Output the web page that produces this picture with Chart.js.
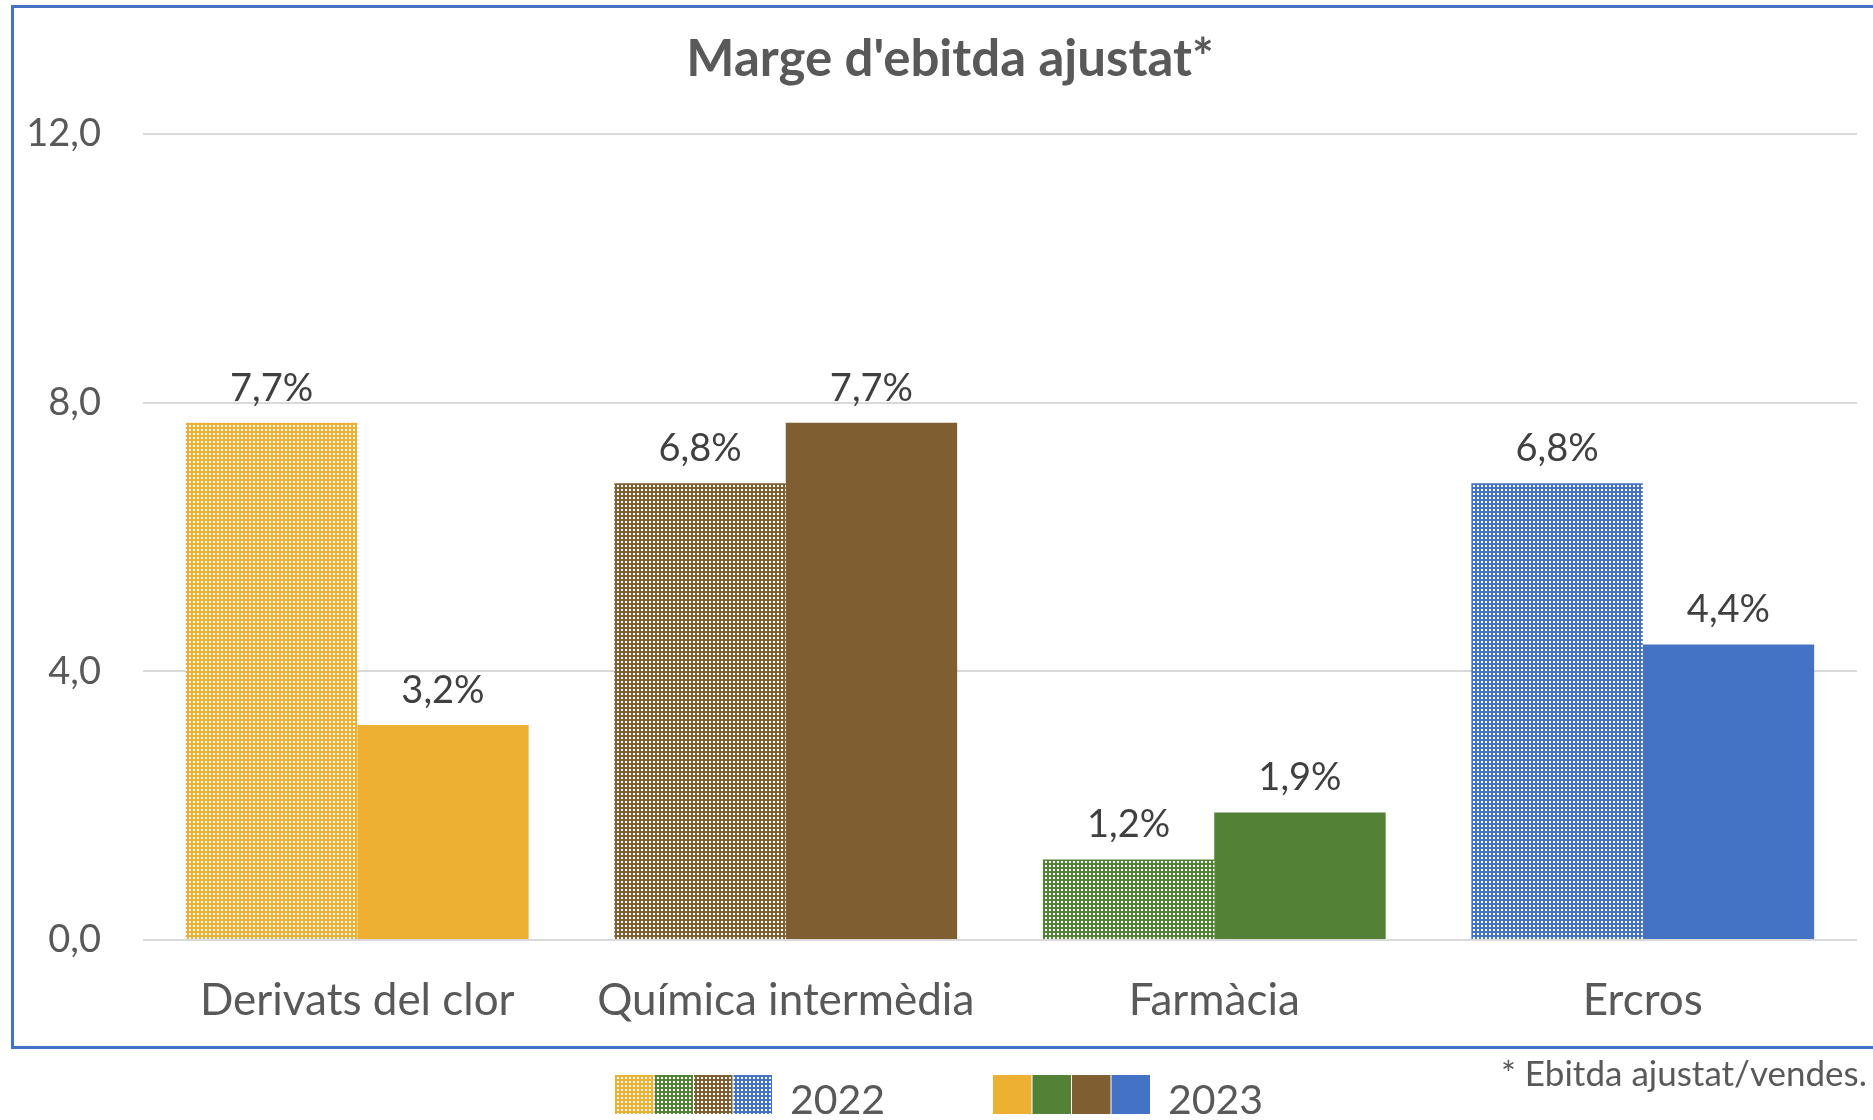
<!DOCTYPE html>
<html lang="ca">
<head>
<meta charset="utf-8">
<title>Marge d'ebitda ajustat</title>
<script src="https://cdn.jsdelivr.net/npm/chart.js@4"></script>
<style>
  html, body { margin: 0; padding: 0; background: #fff; overflow: hidden; }
  #wrap { position: relative; width: 1873px; height: 1120px; }
  #marc {
    position: absolute; left: 11px; top: 5px; width: 1900px; height: 1038px;
    border: 3px solid #4472C4; pointer-events: none;
  }
  #nota {
    position: absolute; right: 6px; top: 1051px;
    font-family: Lato, sans-serif; font-size: 35px; color: #595959;
  }
</style>
</head>
<body>
<div id="wrap">
  <canvas id="grafic" width="1873" height="1120"></canvas>
  <div id="marc"></div>
  <div id="nota">* Ebitda ajustat/vendes.</div>
</div>
<script>
const titol = "Marge d'ebitda ajustat*";
const categories = ['Derivats del clor', 'Química intermèdia', 'Farmàcia', 'Ercros'];
const anys = ['2022', '2023'];
const valors2022 = [7.7, 6.8, 1.2, 6.8];
const valors2023 = [3.2, 7.7, 1.9, 4.4];
const colors = ['#EDB033', '#7F5F32', '#538135', '#4472C4'];
const ordreLlegenda = [0, 2, 1, 3];
const ticksY = [0, 4, 8, 12];

const FONT = 'Lato, sans-serif';

function formatNum(v) {
  return v.toFixed(1).replace('.', ',');
}

// trama de punts blancs (com el patró d'Excel)
function trama(color) {
  const c = document.createElement('canvas');
  c.width = 4;
  c.height = 4;
  const g = c.getContext('2d');
  g.fillStyle = color;
  g.fillRect(0, 0, 4, 4);
  g.fillStyle = '#ffffff';
  g.fillRect(1, 1, 2, 2);
  return g.createPattern(c, 'repeat');
}

const trames = colors.map(trama);

// títol centrat sobre el marc, no sobre l'àrea del gràfic
const titolPlugin = {
  id: 'titol',
  afterDraw(chart) {
    const ctx = chart.ctx;
    ctx.save();
    ctx.font = `bold 51px ${FONT}`;
    ctx.fillStyle = '#595959';
    ctx.textAlign = 'center';
    ctx.textBaseline = 'middle';
    ctx.fillText(titol, 950, 60);
    ctx.restore();
  }
};

// etiquetes de valor damunt les barres
const etiquetesValor = {
  id: 'etiquetesValor',
  afterDatasetsDraw(chart) {
    const ctx = chart.ctx;
    ctx.save();
    ctx.font = `38px ${FONT}`;
    ctx.fillStyle = '#404040';
    ctx.textAlign = 'center';
    ctx.textBaseline = 'alphabetic';
    chart.data.datasets.forEach((ds, i) => {
      const meta = chart.getDatasetMeta(i);
      meta.data.forEach((bar, j) => {
        ctx.fillText(formatNum(ds.data[j]) + '%', bar.x, bar.y - 22);
      });
    });
    ctx.restore();
  }
};

// llegenda amb quatre mostres per any
const llegenda = {
  id: 'llegenda',
  afterDraw(chart) {
    const ctx = chart.ctx;
    const inicis = [615, 993];
    const top = 1075;
    const mida = 39.5;
    ctx.save();
    chart.data.datasets.forEach((ds, i) => {
      const fons = ds.backgroundColor;
      ordreLlegenda.forEach((idx, k) => {
        ctx.fillStyle = fons[idx];
        ctx.fillRect(inicis[i] + k * mida, top, mida - 1, 39);
      });
      ctx.font = `41px ${FONT}`;
      ctx.fillStyle = '#595959';
      ctx.textAlign = 'left';
      ctx.textBaseline = 'alphabetic';
      ctx.fillText(ds.label, inicis[i] + 4 * mida + 17, 1114);
    });
    ctx.restore();
  }
};

new Chart(document.getElementById('grafic'), {
  type: 'bar',
  data: {
    labels: categories,
    datasets: [
      {
        label: anys[0],
        data: valors2022,
        backgroundColor: trames,
        borderWidth: 0
      },
      {
        label: anys[1],
        data: valors2023,
        backgroundColor: colors,
        borderWidth: 0
      }
    ]
  },
  options: {
    responsive: false,
    animation: false,
    events: [],
    layout: { padding: { left: 20, right: 16, top: 134, bottom: 0 } },
    datasets: {
      bar: { categoryPercentage: 0.8, barPercentage: 1.0 }
    },
    scales: {
      x: {
        afterFit: s => { s.height = 180; },
        grid: { display: false },
        border: { display: false },
        ticks: {
          color: '#595959',
          font: { family: FONT, size: 44 },
          padding: 26,
          maxRotation: 0
        }
      },
      y: {
        min: ticksY[0],
        max: ticksY[ticksY.length - 1],
        afterFit: s => { s.width = 123; },
        afterBuildTicks: s => { s.ticks = ticksY.map(v => ({ value: v })); },
        grid: { color: '#d9d9d9', lineWidth: 2, drawTicks: false },
        border: { display: false },
        ticks: {
          color: '#595959',
          font: { family: FONT, size: 38 },
          padding: 42,
          callback: v => formatNum(v)
        }
      }
    },
    plugins: {
      legend: { display: false },
      tooltip: { enabled: false },
      title: { display: false }
    }
  },
  plugins: [etiquetesValor, llegenda, titolPlugin]
});
</script>
</body>
</html>
